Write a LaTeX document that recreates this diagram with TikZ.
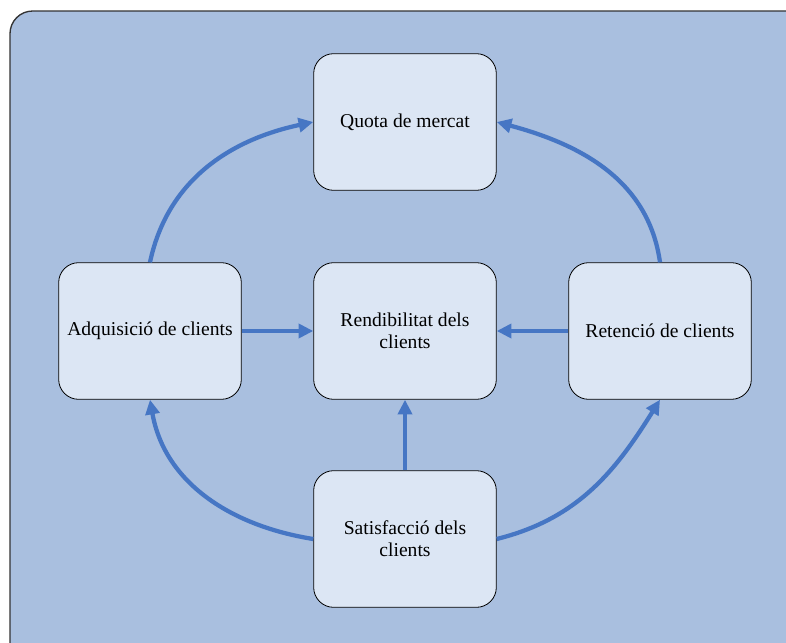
\documentclass[tikz,border=0pt]{standalone}
\usepackage{fontspec}
\setmainfont{Liberation Serif}
\usetikzlibrary{arrows.meta}

\definecolor{bgblue}{HTML}{A9BFDF}
\definecolor{boxblue}{HTML}{DCE6F4}
\definecolor{flowblue}{HTML}{4676C4}

\begin{document}
\begin{tikzpicture}[x=0.75pt, y=0.75pt,
  box/.style={draw, fill=boxblue, rounded corners=15pt, line width=0.6pt,
    minimum width=137pt, minimum height=102.5pt, inner sep=2pt, align=center,
    font=\fontsize{14.7}{16.5}\selectfont},
  flow/.style={draw=flowblue, line width=3.2pt,
    -{Triangle[length=11pt, width=10.5pt]}}]
  \useasboundingbox (0,0) rectangle (786,-643);

  % Panel
  \draw[fill=bgblue, draw=black!80, line width=1pt, rounded corners=17pt]
    (10,-11) rectangle (820,-680);

  % Boxes
  \node[box] (quota) at (405,-122) {Quota de mercat};
  \node[box] (adq)   at (150,-331) {Adquisició de clients};
  \node[box] (rend)  at (405,-331) {Rendibilitat dels\\clients};
  \node[box] (ret)   at (660,-331) {Retenció de clients};
  \node[box] (sat)   at (405,-539) {Satisfacció dels\\clients};

  % Straight arrows into the centre
  \draw[flow] (adq.east) -- (rend.west);
  \draw[flow] (ret.west) -- (rend.east);
  \draw[flow] (sat.north) -- (rend.south);

  % Curved arrows round the outside
  \draw[flow] (adq.north) to[out=78, in=192] (quota.west);
  \draw[flow] (ret.north) to[out=98, in=-15] (quota.east);
  \draw[flow] (sat.west) to[out=171, in=-80] (adq.south);
  \draw[flow] (sat.east) to[out=14, in=238] (ret.south);
\end{tikzpicture}
\end{document}
